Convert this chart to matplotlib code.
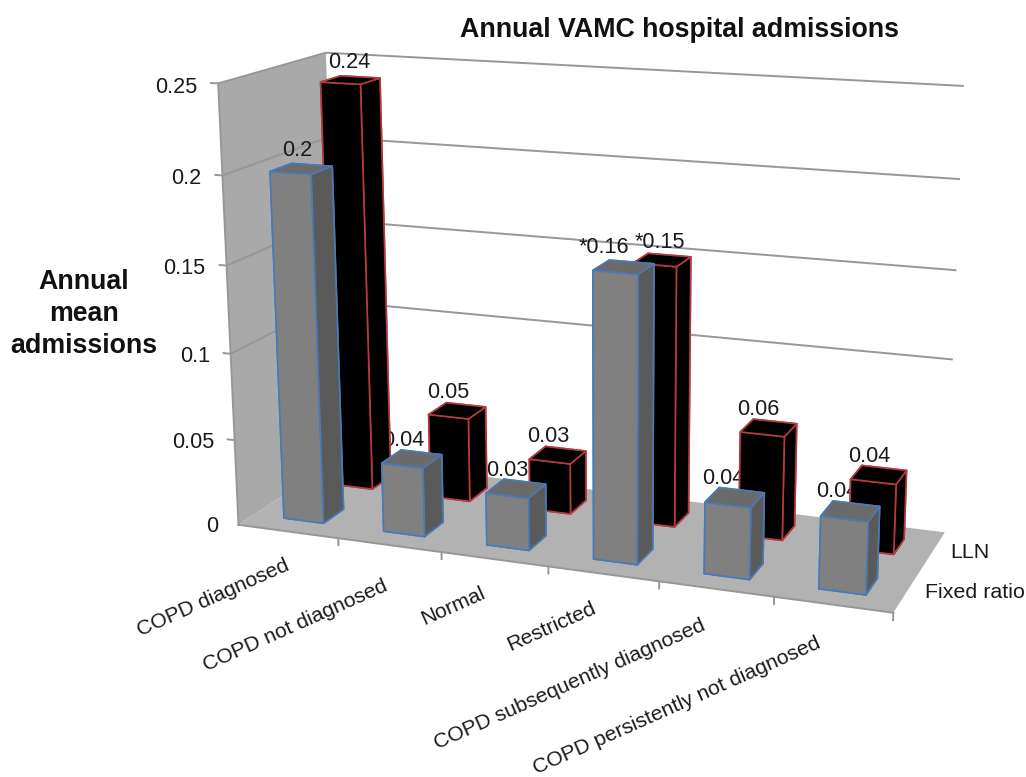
import numpy as np
import matplotlib
matplotlib.use("Agg")
import matplotlib.pyplot as plt
from mpl_toolkits.mplot3d.art3d import Poly3DCollection

plt.rcParams['font.family'] = ['Liberation Sans', 'DejaVu Sans']

categories = ["COPD diagnosed", "COPD not diagnosed", "Normal", "Restricted",
              "COPD subsequently diagnosed", "COPD persistently not diagnosed"]
series_names = ["Fixed ratio", "LLN"]
fixed_ratio = [0.2, 0.04, 0.03, 0.16, 0.04, 0.04]
lln = [0.24, 0.05, 0.03, 0.15, 0.06, 0.04]
fixed_labels = ["0.2", "0.04", "0.03", "*0.16", "0.04", "0.04"]
lln_labels = ["0.24", "0.05", "0.03", "*0.15", "0.06", "0.04"]
z_ticks = [0, 0.05, 0.1, 0.15, 0.2, 0.25]
z_ticklabels = ["0", "0.05", "0.1", "0.15", "0.2", "0.25"]

# label placement tweaks
fixed_label_dx = [-0.04, -0.08, -0.08, -0.18, -0.10, -0.11]
lln_label_dx = [-0.01, -0.09, -0.09, -0.02, -0.10, -0.09]
cat_label_dx = [-0.05, -0.07, -0.14, -0.11, -0.13, -0.14]
cat_label_dz = [-0.015, -0.019, -0.015, -0.015, -0.016, -0.017]

W, H = 1026, 777
ZMAX = 0.25
NX = len(categories)
NY = len(series_names)

# camera calibration: box corners (data) -> image pixels
box_pts = np.array([[0, 0, 0], [NX, 0, 0], [NX, NY, 0], [0, NY, 0],
                    [0, 0, ZMAX], [0, NY, ZMAX], [NX, NY, ZMAX]], float)
img_pts = np.array([[238, 525], [893, 613], [945, 532], [340, 459],
                    [219, 83], [325, 53], [963, 86]], float)


def solve_camera(X, u):
    rows = []
    s = np.array([1 / NX, 1 / NY, 1 / ZMAX])
    for (a, b, c), (p, q) in zip(X * s, u / 1000.0):
        rows.append([a, b, c, 1, 0, 0, 0, 0, -p * a, -p * b, -p * c, -p])
        rows.append([0, 0, 0, 0, a, b, c, 1, -q * a, -q * b, -q * c, -q])
    v = np.linalg.svd(np.array(rows))[2][-1].reshape(3, 4)
    v[:, :3] = v[:, :3] * s
    v[:2] *= 1000.0
    return v / v[2, 3]


CAM = solve_camera(box_pts, img_pts)

fig = plt.figure(figsize=(W / 100, H / 100), dpi=100, facecolor='white')
ax = fig.add_axes([0, 0, 1, 1], projection='3d', computed_zorder=False)
ax.set_axis_off()
ax.set_xticks([])
ax.set_yticks([])
ax.set_zticks([])
ax.apply_aspect = lambda position=None: None


def custom_proj():
    flip = np.array([[1, 0, 0], [0, -1, H], [0, 0, 1.0]])
    to_data = np.linalg.inv(ax.transData.get_affine().get_matrix())
    m23 = to_data @ flip @ CAM
    M = np.zeros((4, 4))
    M[0] = m23[0]
    M[1] = m23[1]
    M[2] = [-0.1, 1.0, -20.0, 0.0]  # depth used for face ordering
    M[3] = m23[2]
    return M


ax.get_proj = custom_proj


def label3d(x, y, z, s, **kw):
    """Text anchored at a data point of the 3D scene, drawn as plain axes text."""
    u, v, w = CAM @ np.array([x, y, z, 1.0])
    return ax.text2D(u / w / W, 1 - v / w / H, s, transform=ax.transAxes, **kw)


WALL = '#a9a9a9'
FLOOR = '#b2b2b2'
LINE = '#979797'
TEXT = '#1a1a1a'
FS = 15.6
FS_CAT = 15.2
FS_SER = 15.4
FS_BOLD = 19.3

# wall and floor
ax.add_collection3d(Poly3DCollection([[(0, 0, 0), (0, NY, 0), (0, NY, ZMAX), (0, 0, ZMAX)]],
                                     facecolor=WALL, edgecolor='none', zorder=1))
ax.add_collection3d(Poly3DCollection([[(0, 0, 0), (NX, 0, 0), (NX, NY, 0), (0, NY, 0)]],
                                     facecolor=FLOOR, edgecolor='none', zorder=1))

# grid lines, edges and ticks
for z in z_ticks:
    ax.plot([-0.07, 0, 0, NX], [0, 0, NY, NY], [z, z, z, z], color=LINE, lw=1.4, zorder=2)
ax.plot([0, 0], [0, 0], [0, ZMAX], color=LINE, lw=1.4, zorder=2)
ax.plot([0, NX, NX], [0, 0, NY], [0, 0, 0], color=LINE, lw=1.4, zorder=2)
for i in range(NX + 1):
    ax.plot([i, i], [0, 0], [0, -0.004], color=LINE, lw=1.4, zorder=2)
for j in range(1, NY + 1):
    ax.plot([NX, NX + 0.06], [j, j], [0, 0], color=LINE, lw=1.4, zorder=2)

# value axis labels
for z, s in zip(z_ticks, z_ticklabels):
    label3d(-0.21, 0, z - 0.0028, s, ha='right', va='center', fontsize=FS, color=TEXT, zorder=20)

# category labels
for i, s in enumerate(categories):
    label3d(i + 0.5 + cat_label_dx[i], 0, cat_label_dz[i], s, rotation=24, ha='right',
            va='top', rotation_mode='anchor', fontsize=FS_CAT, color=TEXT, zorder=20)

# series labels
for j, s in enumerate(series_names):
    label3d(NX + 0.15, j + 0.5, 0.0005, s, ha='left', va='center', fontsize=FS_SER, color=TEXT, zorder=20)

# bars: back series first so the front series overlaps it
BW = 0.4
GREY_FACES = ['#595959', '#6a6a6a', '#808080', '#808080', '#5a5a5a', '#5a5a5a']
BLACK_FACES = ['#000000'] * 6
EDGE_GREY = '#4a7ab5'
EDGE_BLACK = '#b83a3e'


def draw_series(values, j, faces, edge, z0):
    for i, v in enumerate(values):
        poly = ax.bar3d(i + 0.3, j + 0.3, 0, BW, BW, v, color=faces, shade=False,
                        edgecolor=edge, linewidth=1.2)
        poly.set_zorder(z0 + i * 0.01)


def draw_labels(values, labels, j, offsets, z0):
    for i, (v, s) in enumerate(zip(values, labels)):
        label3d(i + 0.5 + offsets[i], j + 0.5, v + 0.004, s, ha='center', va='bottom',
                fontsize=FS, color=TEXT, zorder=z0)


draw_labels(fixed_ratio, fixed_labels, 0, fixed_label_dx, 3)
draw_series(lln, 1, BLACK_FACES, EDGE_BLACK, 4)
draw_series(fixed_ratio, 0, GREY_FACES, EDGE_GREY, 5)
draw_labels(lln, lln_labels, 1, lln_label_dx, 6)

fig.text(680 / W, 1 - 30 / H, "Annual VAMC hospital admissions", ha='center', va='center',
         fontsize=FS_BOLD, fontweight='bold', color='#111111')
fig.text(84 / W, 1 - 314 / H, "Annual\nmean\nadmissions", ha='center', va='center',
         fontsize=FS_BOLD, fontweight='bold', color='#111111', linespacing=1.29)

fig.savefig('out.png', dpi=100)
